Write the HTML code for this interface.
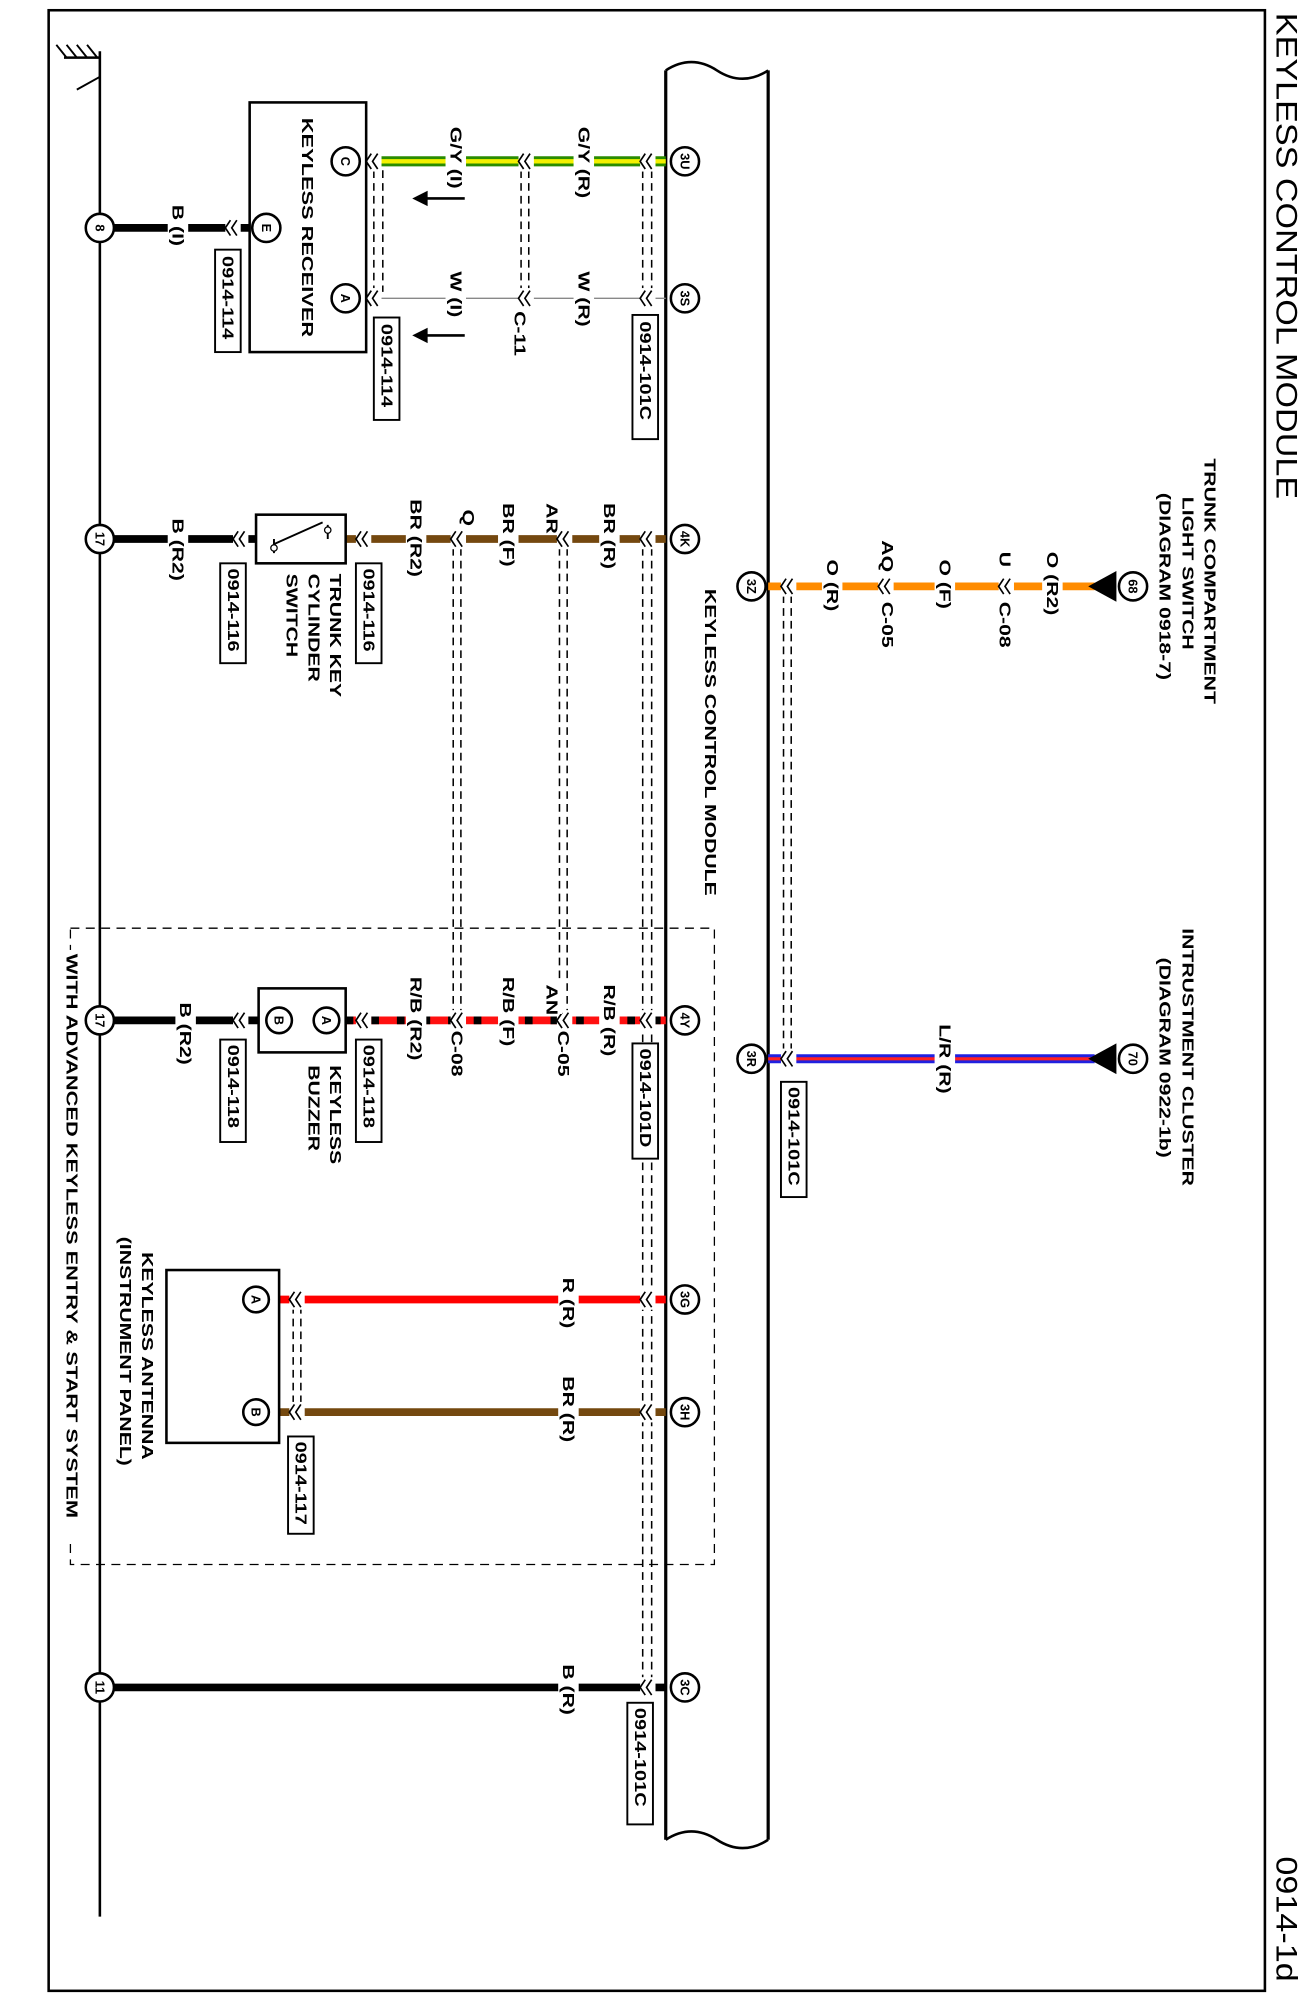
<!DOCTYPE html>
<html><head><meta charset="utf-8"><style>
html,body{margin:0;padding:0;background:#fff}
svg{display:block}
text{font-family:"Liberation Sans",Arial,sans-serif;font-weight:bold;font-size:12px;dominant-baseline:central;fill:#000}
.s{font-size:10px}
.ti{font-size:21px;font-weight:normal}
.lb{fill:#fff;stroke:#000;stroke-width:1.5}
.dl{stroke:#000;stroke-width:1.2;stroke-dasharray:6,4;fill:none}
.ch{stroke:#000;stroke-width:1.3;fill:none}
.pc{fill:#fff;stroke:#000;stroke-width:2}
</style></head><body>
<svg width="1311" height="1998" viewBox="0 0 1024 1560.6" preserveAspectRatio="none" xmlns="http://www.w3.org/2000/svg">
<defs>
<g id="cv"><path class="ch" d="M3,-6 L-1,0 L3,6 M8,-6 L4,0 L8,6"/></g>
</defs>
<rect x="38" y="8" width="950" height="1547" fill="none" stroke="#000" stroke-width="2"/>
<text class="ti" transform="translate(1005,10) rotate(90) scale(1.27,1.1)">KEYLESS CONTROL MODULE</text>
<text class="ti" transform="translate(1005,1450) rotate(90) scale(1.27,1.1)">0914-1d</text>
<line x1="78" y1="40" x2="78" y2="1497" stroke="#000" stroke-width="2"/>
<line x1="50" y1="45" x2="78" y2="45" stroke="#000" stroke-width="2"/>
<path d="M52,45 L44,35 M60,45 L52,35 M68,45 L60,35 M76,45 L68,35 M78,45 L78,60 L60,70" stroke="#000" stroke-width="1.5" fill="none"/>
<path d="M520,55 Q540,42 560,55 T600,55" fill="none" stroke="#000" stroke-width="2"/>
<path d="M520,1437 Q540,1424 560,1437 T600,1437" fill="none" stroke="#000" stroke-width="2"/>
<line x1="520" y1="55" x2="520" y2="1437" stroke="#000" stroke-width="2.5"/>
<line x1="600" y1="55" x2="600" y2="1437" stroke="#000" stroke-width="2.5"/>
<text transform="translate(555,460) rotate(90) scale(1.38,1)">KEYLESS CONTROL MODULE</text>
<rect x="55" y="725" width="503" height="497" fill="none" stroke="#000" stroke-width="1" stroke-dasharray="7,5"/>
<rect x="48" y="742" width="16" height="462" fill="#fff"/>
<text transform="translate(56,745) rotate(90) scale(1.42,1)">WITH ADVANCED KEYLESS ENTRY &amp; START SYSTEM</text>

<g class="dl">
<line x1="502" y1="133" x2="502" y2="228"/><line x1="509" y1="133" x2="509" y2="228"/>
<line x1="407" y1="133" x2="407" y2="228"/><line x1="413" y1="133" x2="413" y2="228"/>
<line x1="292" y1="133" x2="292" y2="228"/><line x1="299" y1="133" x2="299" y2="228"/>
<line x1="502" y1="428" x2="502" y2="1313"/><line x1="509" y1="428" x2="509" y2="1313"/>
<line x1="437" y1="428" x2="437" y2="792"/><line x1="443" y1="428" x2="443" y2="792"/>
<line x1="354" y1="428" x2="354" y2="792"/><line x1="360" y1="428" x2="360" y2="792"/>
<line x1="612" y1="465" x2="612" y2="822"/><line x1="618" y1="465" x2="618" y2="822"/>
<line x1="229" y1="1020" x2="229" y2="1098"/><line x1="235" y1="1020" x2="235" y2="1098"/>
</g>

<line x1="286" y1="126" x2="520" y2="126" stroke="#2a8c00" stroke-width="8"/>
<line x1="286" y1="126" x2="520" y2="126" stroke="#f4f000" stroke-width="3.5"/>
<line x1="286" y1="233" x2="520" y2="233" stroke="#888" stroke-width="1"/>
<line x1="78" y1="178" x2="195" y2="178" stroke="#000" stroke-width="6"/>
<line x1="270" y1="421" x2="520" y2="421" stroke="#74480f" stroke-width="6"/>
<line x1="78" y1="421" x2="200" y2="421" stroke="#000" stroke-width="6"/>
<line x1="600" y1="458" x2="855" y2="458" stroke="#ff8c00" stroke-width="6"/>
<line x1="600" y1="827" x2="855" y2="827" stroke="#2020e0" stroke-width="7"/>
<line x1="600" y1="827" x2="855" y2="827" stroke="#ff2020" stroke-width="2.5"/>
<line x1="270" y1="797" x2="520" y2="797" stroke="#ff1010" stroke-width="6"/>
<line x1="270" y1="797" x2="520" y2="797" stroke="#000" stroke-width="6" stroke-dasharray="6,14"/>
<line x1="78" y1="797" x2="202" y2="797" stroke="#000" stroke-width="6"/>
<line x1="218" y1="1015" x2="520" y2="1015" stroke="#ff0000" stroke-width="6"/>
<line x1="218" y1="1103" x2="520" y2="1103" stroke="#74480f" stroke-width="6"/>
<line x1="78" y1="1318" x2="520" y2="1318" stroke="#000" stroke-width="6"/>

<g fill="#fff">
<rect x="500" y="118" width="12" height="16"/><rect x="405" y="118" width="12" height="16"/><rect x="286" y="118" width="12" height="16"/>
<rect x="500" y="225" width="12" height="16"/><rect x="405" y="225" width="12" height="16"/><rect x="286" y="225" width="12" height="16"/>
<rect x="176" y="170" width="12" height="16"/>
<rect x="500" y="413" width="12" height="16"/><rect x="435" y="413" width="12" height="16"/><rect x="352" y="413" width="12" height="16"/><rect x="278" y="413" width="12" height="16"/><rect x="182" y="413" width="12" height="16"/>
<rect x="610" y="450" width="12" height="16"/><rect x="686" y="450" width="12" height="16"/><rect x="780" y="450" width="12" height="16"/>
<rect x="610" y="819" width="12" height="16"/>
<rect x="500" y="789" width="12" height="16"/><rect x="435" y="789" width="12" height="16"/><rect x="352" y="789" width="12" height="16"/><rect x="278" y="789" width="12" height="16"/><rect x="182" y="789" width="12" height="16"/>
<rect x="500" y="1007" width="12" height="16"/><rect x="226" y="1007" width="12" height="16"/>
<rect x="500" y="1095" width="12" height="16"/><rect x="226" y="1095" width="12" height="16"/>
<rect x="500" y="1310" width="12" height="16"/>
</g>
<use href="#cv" x="501" y="126"/><use href="#cv" x="406" y="126"/><use href="#cv" x="287" y="126"/>
<use href="#cv" x="501" y="233"/><use href="#cv" x="406" y="233"/><use href="#cv" x="287" y="233"/>
<use href="#cv" x="177" y="178"/>
<use href="#cv" x="501" y="421"/><use href="#cv" x="436" y="421"/><use href="#cv" x="353" y="421"/><use href="#cv" x="279" y="421"/><use href="#cv" x="183" y="421"/>
<use href="#cv" x="611" y="458"/><use href="#cv" x="687" y="458"/><use href="#cv" x="781" y="458"/>
<use href="#cv" x="611" y="827"/>
<use href="#cv" x="501" y="797"/><use href="#cv" x="436" y="797"/><use href="#cv" x="353" y="797"/><use href="#cv" x="279" y="797"/><use href="#cv" x="183" y="797"/>
<use href="#cv" x="501" y="1015"/><use href="#cv" x="227" y="1015"/>
<use href="#cv" x="501" y="1103"/><use href="#cv" x="227" y="1103"/>
<use href="#cv" x="501" y="1318"/>

<g fill="#fff">
<rect x="448" y="96" width="16" height="62"/><rect x="348" y="96" width="16" height="62"/>
<rect x="448" y="208" width="16" height="52"/><rect x="348" y="208" width="16" height="52"/>
<rect x="131" y="158" width="16" height="36"/>
<rect x="468" y="390" width="16" height="58"/><rect x="423" y="390" width="16" height="24"/><rect x="389" y="390" width="16" height="58"/><rect x="358" y="395" width="16" height="18"/><rect x="317" y="388" width="16" height="64"/>
<rect x="131" y="403" width="16" height="54"/>
<rect x="642" y="435" width="16" height="48"/><rect x="685" y="420" width="16" height="24"/><rect x="730" y="435" width="16" height="48"/><rect x="777" y="428" width="16" height="18"/><rect x="814" y="428" width="16" height="60"/>
<rect x="730" y="798" width="16" height="60"/>
<rect x="468" y="766" width="16" height="62"/><rect x="423" y="766" width="16" height="26"/><rect x="389" y="760" width="16" height="58"/><rect x="317" y="760" width="16" height="68"/>
<rect x="137" y="780" width="16" height="54"/>
<rect x="436" y="995" width="16" height="48"/><rect x="436" y="1072" width="16" height="58"/><rect x="436" y="1297" width="16" height="46"/>
</g>
<text transform="translate(456,99) rotate(90) scale(1.38,1)">G/Y (R)</text>
<text transform="translate(356,99) rotate(90) scale(1.38,1)">G/Y (I)</text>
<text transform="translate(456,212) rotate(90) scale(1.38,1)">W (R)</text>
<text transform="translate(356,212) rotate(90) scale(1.38,1)">W (I)</text>
<text transform="translate(406,243) rotate(90) scale(1.38,1)">C-11</text>
<path d="M363,155 L330,155" stroke="#000" stroke-width="2"/><path d="M322,155 L334,149 L334,161 Z"/>
<path d="M363,262 L330,262" stroke="#000" stroke-width="2"/><path d="M322,262 L334,256 L334,268 Z"/>
<text transform="translate(139,160) rotate(90) scale(1.38,1)">B (I)</text>
<text transform="translate(476,393) rotate(90) scale(1.38,1)">BR (R)</text>
<text transform="translate(431,393) rotate(90) scale(1.38,1)">AR</text>
<text transform="translate(397,393) rotate(90) scale(1.38,1)">BR (F)</text>
<text transform="translate(366,398) rotate(90) scale(1.38,1)">Q</text>
<text transform="translate(325,390) rotate(90) scale(1.38,1)">BR (R2)</text>
<text transform="translate(139,405) rotate(90) scale(1.38,1)">B (R2)</text>
<text transform="translate(650,437) rotate(90) scale(1.38,1)">O (R)</text>
<text transform="translate(693,422) rotate(90) scale(1.38,1)">AQ</text>
<text transform="translate(693,470) rotate(90) scale(1.38,1)">C-05</text>
<text transform="translate(738,437) rotate(90) scale(1.38,1)">O (F)</text>
<text transform="translate(785,431) rotate(90) scale(1.38,1)">U</text>
<text transform="translate(785,470) rotate(90) scale(1.38,1)">C-08</text>
<text transform="translate(822,431) rotate(90) scale(1.38,1)">O (R2)</text>
<text transform="translate(738,800) rotate(90) scale(1.38,1)">L/R (R)</text>
<text transform="translate(476,769) rotate(90) scale(1.38,1)">R/B (R)</text>
<text transform="translate(431,769) rotate(90) scale(1.38,1)">AN</text>
<text transform="translate(397,763) rotate(90) scale(1.38,1)">R/B (F)</text>
<text transform="translate(325,763) rotate(90) scale(1.38,1)">R/B (R2)</text>
<text transform="translate(440,805) rotate(90) scale(1.38,1)">C-05</text>
<text transform="translate(357,805) rotate(90) scale(1.38,1)">C-08</text>
<text transform="translate(145,783) rotate(90) scale(1.38,1)">B (R2)</text>
<text transform="translate(444,998) rotate(90) scale(1.38,1)">R (R)</text>
<text transform="translate(444,1075) rotate(90) scale(1.38,1)">BR (R)</text>
<text transform="translate(444,1300) rotate(90) scale(1.38,1)">B (R)</text>

<rect x="195" y="80" width="91" height="195" fill="#fff" stroke="#000" stroke-width="2"/>
<text transform="translate(240,92) rotate(90) scale(1.42,1)">KEYLESS RECEIVER</text>
<circle class="pc" cx="270" cy="126" r="11"/><text class="s" text-anchor="middle" transform="translate(270,126) rotate(90)">C</text>
<circle class="pc" cx="270" cy="233" r="11"/><text class="s" text-anchor="middle" transform="translate(270,233) rotate(90)">A</text>
<circle class="pc" cx="208" cy="178" r="11"/><text class="s" text-anchor="middle" transform="translate(208,178) rotate(90)">E</text>

<rect x="200" y="402" width="70" height="38" fill="#fff" stroke="#000" stroke-width="2"/>
<path d="M214,421 L214,432 M256,421 L256,410 M214,425 L252,408" stroke="#000" stroke-width="1.5" fill="none"/>
<circle cx="256" cy="414" r="2.5" fill="#fff" stroke="#000"/><circle cx="214" cy="428" r="2.5" fill="#fff" stroke="#000"/>
<text transform="translate(262,448) rotate(90) scale(1.38,1)">TRUNK KEY</text>
<text transform="translate(245,448) rotate(90) scale(1.38,1)">CYLINDER</text>
<text transform="translate(228,448) rotate(90) scale(1.38,1)">SWITCH</text>

<rect x="202" y="772" width="68" height="50" fill="#fff" stroke="#000" stroke-width="2"/>
<circle class="pc" cx="255" cy="797" r="10"/><text class="s" text-anchor="middle" transform="translate(255,797) rotate(90)">A</text>
<circle class="pc" cx="218" cy="797" r="10"/><text class="s" text-anchor="middle" transform="translate(218,797) rotate(90)">B</text>
<text transform="translate(262,832) rotate(90) scale(1.38,1)">KEYLESS</text>
<text transform="translate(245,832) rotate(90) scale(1.38,1)">BUZZER</text>

<rect x="130" y="992" width="88" height="135" fill="#fff" stroke="#000" stroke-width="2"/>
<circle class="pc" cx="200" cy="1015" r="10"/><text class="s" text-anchor="middle" transform="translate(200,1015) rotate(90)">A</text>
<circle class="pc" cx="200" cy="1103" r="10"/><text class="s" text-anchor="middle" transform="translate(200,1103) rotate(90)">B</text>
<text transform="translate(115,978) rotate(90) scale(1.38,1)">KEYLESS ANTENNA</text>
<text transform="translate(98,966) rotate(90) scale(1.38,1)">(INSTRUMENT PANEL)</text>

<path d="M850,458 L872,446 L872,470 Z"/>
<circle class="pc" cx="885" cy="458" r="11"/><text class="s" text-anchor="middle" transform="translate(885,458) rotate(90)">68</text>
<text transform="translate(945,358) rotate(90) scale(1.38,1)">TRUNK COMPARTMENT</text>
<text transform="translate(928,388) rotate(90) scale(1.38,1)">LIGHT SWITCH</text>
<text transform="translate(910,385) rotate(90) scale(1.38,1)">(DIAGRAM 0918-7)</text>
<path d="M850,827 L872,815 L872,839 Z"/>
<circle class="pc" cx="885" cy="827" r="11"/><text class="s" text-anchor="middle" transform="translate(885,827) rotate(90)">70</text>
<text transform="translate(928,725) rotate(90) scale(1.38,1)">INTRUSTMENT CLUSTER</text>
<text transform="translate(910,748) rotate(90) scale(1.38,1)">(DIAGRAM 0922-1b)</text>

<g>
<circle class="pc" cx="535" cy="126" r="11"/><text class="s" text-anchor="middle" transform="translate(535,126) rotate(90)">3U</text>
<circle class="pc" cx="535" cy="233" r="11"/><text class="s" text-anchor="middle" transform="translate(535,233) rotate(90)">3S</text>
<circle class="pc" cx="535" cy="421" r="11"/><text class="s" text-anchor="middle" transform="translate(535,421) rotate(90)">4K</text>
<circle class="pc" cx="535" cy="797" r="11"/><text class="s" text-anchor="middle" transform="translate(535,797) rotate(90)">4Y</text>
<circle class="pc" cx="535" cy="1015" r="11"/><text class="s" text-anchor="middle" transform="translate(535,1015) rotate(90)">3G</text>
<circle class="pc" cx="535" cy="1103" r="11"/><text class="s" text-anchor="middle" transform="translate(535,1103) rotate(90)">3H</text>
<circle class="pc" cx="535" cy="1318" r="11"/><text class="s" text-anchor="middle" transform="translate(535,1318) rotate(90)">3C</text>
<circle class="pc" cx="587" cy="458" r="11"/><text class="s" text-anchor="middle" transform="translate(587,458) rotate(90)">3Z</text>
<circle class="pc" cx="587" cy="827" r="11"/><text class="s" text-anchor="middle" transform="translate(587,827) rotate(90)">3R</text>
</g>
<circle class="pc" cx="78" cy="178" r="11"/><text class="s" text-anchor="middle" transform="translate(78,178) rotate(90)">8</text>
<circle class="pc" cx="78" cy="421" r="11"/><text class="s" text-anchor="middle" transform="translate(78,421) rotate(90)">17</text>
<circle class="pc" cx="78" cy="797" r="11"/><text class="s" text-anchor="middle" transform="translate(78,797) rotate(90)">17</text>
<circle class="pc" cx="78" cy="1318" r="11"/><text class="s" text-anchor="middle" transform="translate(78,1318) rotate(90)">11</text>

<rect class="lb" x="494" y="246" width="20" height="97"/><text transform="translate(504,251) rotate(90) scale(1.3,1)">0914-101C</text>
<rect class="lb" x="292" y="248" width="20" height="80"/><text transform="translate(302,253) rotate(90) scale(1.3,1)">0914-114</text>
<rect class="lb" x="168" y="195" width="20" height="80"/><text transform="translate(178,200) rotate(90) scale(1.3,1)">0914-114</text>
<rect class="lb" x="278" y="440" width="20" height="78"/><text transform="translate(288,444) rotate(90) scale(1.3,1)">0914-116</text>
<rect class="lb" x="172" y="440" width="20" height="78"/><text transform="translate(182,444) rotate(90) scale(1.3,1)">0914-116</text>
<rect class="lb" x="610" y="845" width="20" height="90"/><text transform="translate(620,849) rotate(90) scale(1.3,1)">0914-101C</text>
<rect class="lb" x="494" y="815" width="20" height="90"/><text transform="translate(504,819) rotate(90) scale(1.3,1)">0914-101D</text>
<rect class="lb" x="278" y="812" width="20" height="80"/><text transform="translate(288,816) rotate(90) scale(1.3,1)">0914-118</text>
<rect class="lb" x="172" y="812" width="20" height="80"/><text transform="translate(182,816) rotate(90) scale(1.3,1)">0914-118</text>
<rect class="lb" x="225" y="1122" width="20" height="76"/><text transform="translate(235,1126) rotate(90) scale(1.3,1)">0914-117</text>
<rect class="lb" x="490" y="1330" width="20" height="95"/><text transform="translate(500,1334) rotate(90) scale(1.3,1)">0914-101C</text>
</svg>
</body></html>
